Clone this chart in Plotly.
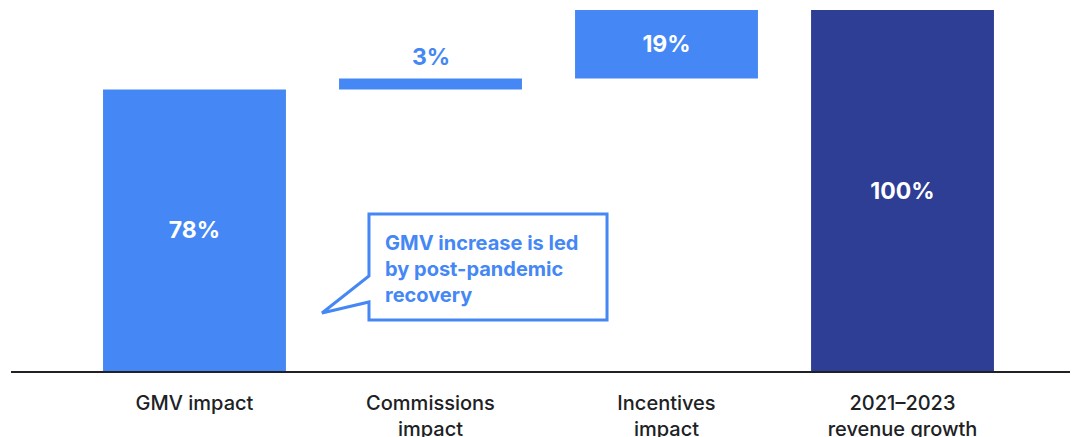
import plotly.graph_objects as go

# data
categories = ["GMV impact", "Commissions<br>impact", "Incentives<br>impact", "2021–2023<br>revenue growth"]
impact_pct = [78, 3, 19]
total_pct = 100
callout_lines = ["GMV increase is led", "by post-pandemic", "recovery"]

BLUE = "#4487F5"
NAVY = "#2D3E94"
INK = "#202124"
FONT = "Inter, Roboto, sans-serif"

W, H = 1078, 437
L, R, T, B = 3, 8, 2, 74


def px(x, y):
    # page pixel position (page has an 8px body margin) -> paper coordinates
    return (x - 8 - L) / (W - L - R), (H - B - (y - 8)) / (H - T - B)


values = impact_pct + [total_pct]
labels = [f"{v}%" for v in values]
measures = ["relative"] * len(impact_pct) + ["total"]

fig = go.Figure()
fig.add_trace(
    go.Waterfall(
        x=list(range(len(categories))),
        y=values,
        measure=measures,
        text=labels,
        textposition=["inside", "none", "inside", "inside"],
        insidetextanchor="middle",
        insidetextfont=dict(color="white", size=23, family=FONT, weight=700),
        increasing=dict(marker=dict(color=BLUE, line=dict(width=0))),
        totals=dict(marker=dict(color=NAVY, line=dict(width=0))),
        connector=dict(visible=False),
        width=0.775,
        hoverinfo="skip",
        cliponaxis=False,
    )
)

# label above the thin commissions bar
fig.add_annotation(
    x=1,
    y=sum(impact_pct[:2]),
    text=labels[1],
    showarrow=False,
    yanchor="bottom",
    yshift=6,
    font=dict(color=BLUE, size=23, family=FONT, weight=700),
)

# speech-bubble callout
pts = [(369, 214), (607, 214), (607, 320), (369, 320), (369, 302), (322, 313), (369, 276)]
path = "M " + " L ".join(f"{a:.4f},{b:.4f}" for a, b in (px(x, y) for x, y in pts)) + " Z"
fig.add_shape(
    type="path",
    path=path,
    xref="paper",
    yref="paper",
    line=dict(color=BLUE, width=3),
    fillcolor="white",
    layer="above",
)
for i, line in enumerate(callout_lines):
    ax, ay = px(383, 243 + i * 26)
    fig.add_annotation(
        x=ax,
        y=ay,
        xref="paper",
        yref="paper",
        text=line,
        showarrow=False,
        xanchor="left",
        yanchor="middle",
        font=dict(color=BLUE, size=20, family=FONT, weight=700),
    )

fig.update_layout(
    width=W,
    height=H,
    margin=dict(l=L, r=R, t=T, b=B),
    paper_bgcolor="white",
    plot_bgcolor="white",
    showlegend=False,
    font=dict(family=FONT, color=INK),
    xaxis=dict(
        tickmode="array",
        tickvals=list(range(len(categories))),
        ticktext=categories,
        range=[-0.7775, 3.7436],
        showline=True,
        linecolor=INK,
        linewidth=2,
        showgrid=False,
        zeroline=False,
        ticks="",
        ticklabelstandoff=13,
        tickfont=dict(size=20, color=INK, family=FONT, weight=500),
    ),
    yaxis=dict(range=[0, 100], visible=False, showgrid=False, zeroline=False),
)

fig.write_html("out.html")
